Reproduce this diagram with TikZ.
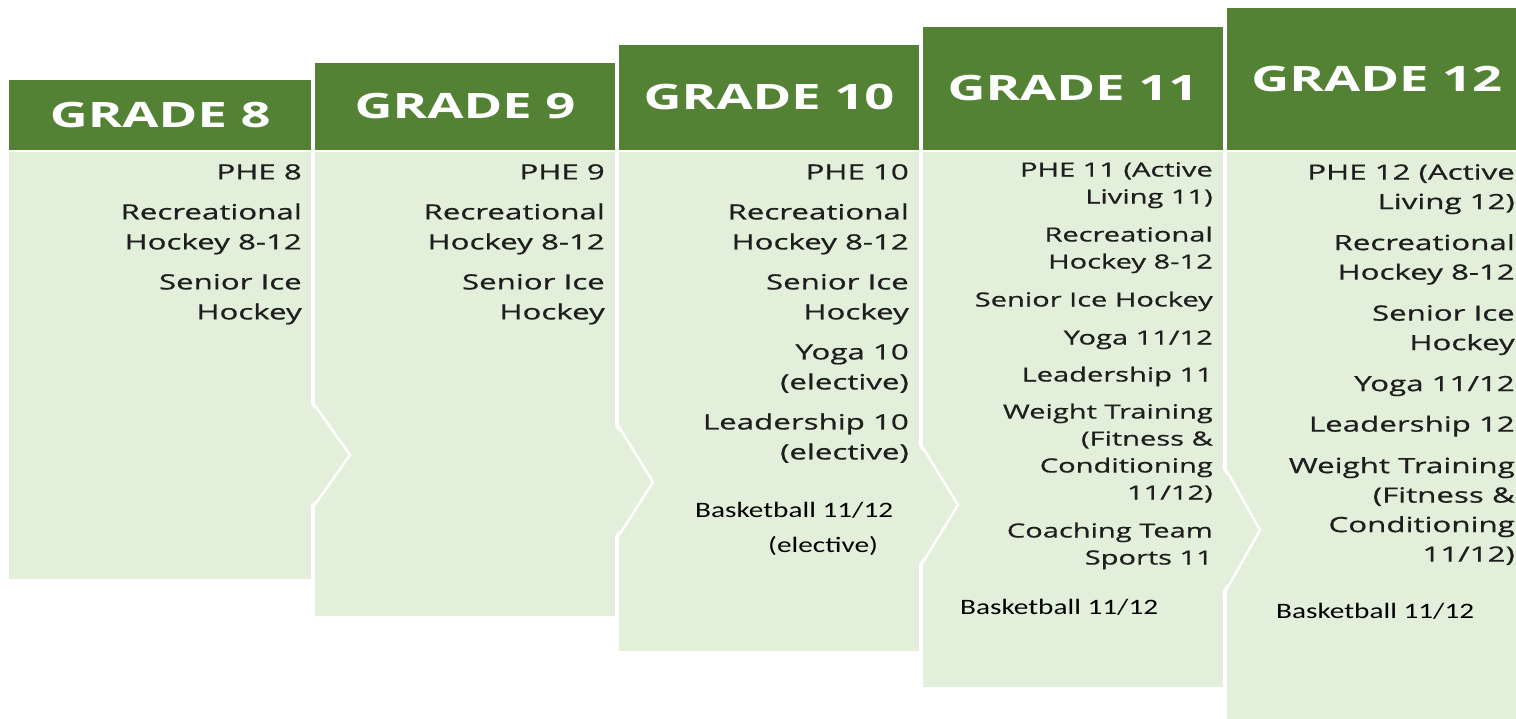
\documentclass[tikz,border=0pt]{standalone}
\usepackage{fontspec}
\setmainfont{Open Sans}
\newfontfamily\listfont[FakeStretch=1.49, FakeBold=0.7]{Open Sans}
\newfontfamily\headfont[FakeStretch=1.5]{Open Sans}
\newfontfamily\notefont[FakeStretch=1.33]{Carlito}
\usetikzlibrary{positioning}

\definecolor{headgreen}{HTML}{548235}
\definecolor{bodygreen}{HTML}{E2EFDA}
\definecolor{listgray}{HTML}{1E1E1E}

\tikzset{
  gradehead/.style={fill=headgreen, text=white, inner sep=0pt, minimum width=300pt,
    font=\headfont\bfseries\fontsize{35}{40}\selectfont},
  gradebody/.style={fill=bodygreen, inner sep=0pt, minimum width=300pt, anchor=north west},
  courselist/.style={align=right, anchor=north east, inner sep=0pt, text=listgray,
    font=\listfont\fontsize{21}{30}\selectfont},
  bballnote/.style={anchor=base west, inner sep=0pt, text=black,
    font=\notefont\fontsize{22}{26}\selectfont},
  gapline/.style={white, line width=2.5pt, line join=miter},
}

\begin{document}
\begin{tikzpicture}[x=1pt, y=-1pt]
    \useasboundingbox (0,0) rectangle (1516,719);
    \clip (0,0) rectangle (1516,719);

    % grade headers, stepping up to the right
    \node[gradehead, minimum width=302pt, minimum height=70pt, anchor=south west] (g8) at (9,150) {GRADE 8};
    \node[gradehead, minimum height=87pt, right=3.5pt of g8.south east, anchor=south west] (g9) {GRADE 9};
    \node[gradehead, minimum height=105pt, right=3.5pt of g9.south east, anchor=south west] (g10) {GRADE 10};
    \node[gradehead, minimum height=123pt, right=3.5pt of g10.south east, anchor=south west] (g11) {GRADE 11};
    \node[gradehead, minimum height=142pt, right=3.5pt of g11.south east, anchor=south west] (g12) {GRADE 12};

    % course panels
    \node[gradebody, minimum width=302pt, minimum height=427pt] (b8) at ([yshift=-2pt]g8.south west) {};
    \node[gradebody, minimum height=464pt] (b9) at ([yshift=-2pt]g9.south west) {};
    \node[gradebody, minimum height=499pt] (b10) at ([yshift=-2pt]g10.south west) {};
    \node[gradebody, minimum height=535pt] (b11) at ([yshift=-2pt]g11.south west) {};
    \node[gradebody, minimum height=580pt] (b12) at ([yshift=-2pt]g12.south west) {};

    % chevron points between panels
    \fill[bodygreen] (309,402) -- (350,455) -- (309,508) -- cycle;
    \draw[gapline] (312.5,402) -- (350,455) -- (312.5,508);
    \fill[bodygreen] (612,422) -- (653,482) -- (612,540) -- cycle;
    \draw[gapline] (616,422) -- (653,482) -- (616,540);
    \fill[bodygreen] (917,443) -- (958,505) -- (917,567) -- cycle;
    \draw[gapline] (920,443) -- (958,505) -- (920,567);
    \fill[bodygreen] (1220,465) -- (1260,530) -- (1220,595) -- cycle;
    \draw[gapline] (1223.5,465) -- (1260,530) -- (1223.5,595);

    % course lists
    \node[courselist] (l8) at (302,164) {PHE 8\\[10pt] Recreational\\ Hockey 8-12\\[10pt] Senior Ice\\ Hockey};
    \node[courselist] (l9) at (605,164) {PHE 9\\[10pt] Recreational\\ Hockey 8-12\\[10pt] Senior Ice\\ Hockey};
    \node[courselist] (l10) at (909,164) {PHE 10\\[10pt] Recreational\\ Hockey 8-12\\[10pt] Senior Ice\\ Hockey\\[10pt]
      Yoga 10\\ (elective)\\[10pt] Leadership 10\\ (elective)};
    \node[courselist, font=\listfont\fontsize{19.5}{27}\selectfont] (l11) at (1213,162) {PHE 11 (Active\\ Living 11)\\[11pt]
      Recreational\\ Hockey 8-12\\[11pt] Senior Ice Hockey\\[11pt] Yoga 11/12\\[10pt] Leadership 11\\[10pt]
      Weight Training\\ (Fitness \&\\ Conditioning\\ 11/12)\\[11pt] Coaching Team\\ Sports 11};
    \node[courselist, font=\listfont\fontsize{21}{29.5}\selectfont] (l12) at (1515,164) {PHE 12 (Active\\ Living 12)\\[11.5pt]
      Recreational\\ Hockey 8-12\\[11.5pt] Senior Ice\\ Hockey\\[11.5pt] Yoga 11/12\\[11pt] Leadership 12\\[12pt]
      Weight Training\\ (Fitness \&\\ Conditioning\\ 11/12)};

    % basketball notes
    \node[bballnote] (n10) at (695,517) {Basketball 11/12};
    \node[bballnote] (n10e) at (768,552) {(elective)};
    \node[bballnote] (n11) at (960,614) {Basketball 11/12};
    \node[bballnote] (n12) at (1276,618) {Basketball 11/12};
\end{tikzpicture}
\end{document}
